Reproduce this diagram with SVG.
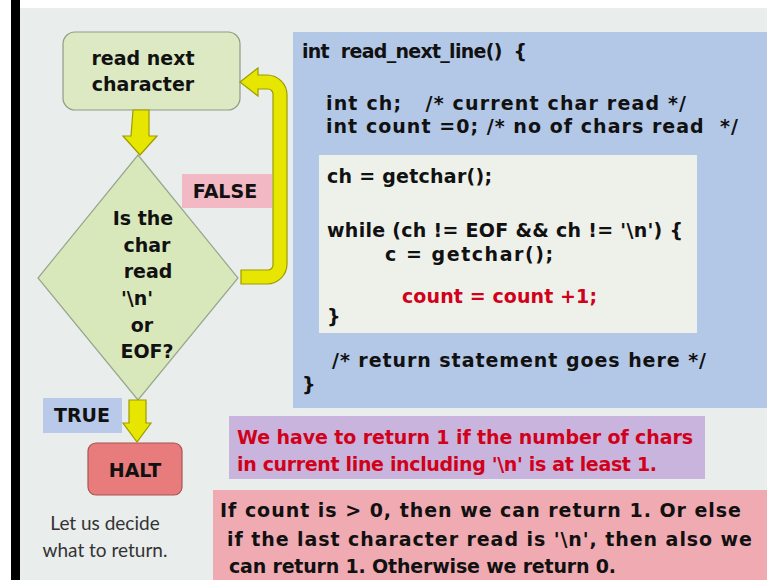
<svg xmlns="http://www.w3.org/2000/svg" width="767" height="580" viewBox="0 0 767 580">
<defs>
<style>
.t{font-family:"DejaVu Sans","Open Sans",sans-serif;font-weight:700;fill:#111;white-space:pre}
.c{font-size:19px}
.r{fill:#d0021b}
.n{font-family:"Lato","Open Sans",sans-serif;font-size:19px;fill:#333}
.node{stroke-width:1.2}
.ar{fill:#e6e600;stroke:#9c9c00;stroke-width:1.2}
</style>
</defs>
<rect x="0" y="0" width="767" height="580" fill="#ffffff"/>
<rect x="20" y="8" width="747" height="572" fill="#e9edec"/>
<rect x="11" y="0" width="9" height="580" fill="#000"/>

<g id="code-box">
<rect x="293" y="32" width="474" height="376" fill="#b3c7e6"/>
<text class="t c" x="302" y="58" textLength="225">int  read_next_line()  {</text>
<text class="t c" x="326" y="110" textLength="360">int ch;   /* current char read */</text>
<text class="t c" x="326" y="133" textLength="412">int count =0; /* no of chars read  */</text>
<rect x="319" y="155" width="378" height="178" fill="#eef0ea"/>
<text class="t c" x="327" y="183" textLength="165">ch = getchar();</text>
<text class="t c" x="327" y="237" textLength="356">while (ch != EOF &amp;&amp; ch != '\n') {</text>
<text class="t c" x="385" y="261" textLength="168">c = getchar();</text>
<text class="t c r" x="402" y="303" textLength="195">count = count +1;</text>
<text class="t c" x="327" y="323">}</text>
<text class="t c" x="332" y="367" textLength="374">/* return statement goes here */</text>
<text class="t c" x="302" y="391">}</text>
</g>

<g id="note-return">
<rect x="229" y="416" width="476" height="63" fill="#c9b4dd"/>
<text class="t c r" x="237" y="444" textLength="456">We have to return 1 if the number of chars</text>
<text class="t c r" x="237" y="471" textLength="420">in current line including '\n' is at least 1.</text>
</g>

<g id="note-count">
<rect x="213" y="490" width="554" height="90" fill="#f0aab2"/>
<text class="t c" x="220" y="517" textLength="521">If count is &gt; 0, then we can return 1. Or else</text>
<text class="t c" x="227" y="546" textLength="525">if the last character read is '\n', then also we</text>
<text class="t c" x="229" y="573" textLength="387">can return 1. Otherwise we return 0.</text>
</g>

<g id="read-next">
<rect class="node" x="63" y="32" width="177" height="78" rx="12" fill="#dce9c2" stroke="#8f9c86"/>
<text class="t c" x="143" y="65" text-anchor="middle">read next</text>
<text class="t c" x="143" y="91" text-anchor="middle">character</text>
</g>

<g id="decision">
<polygon class="node" points="138,155 238,278 138,400 38,278" fill="#d9e8bb" stroke="#98a68e"/>
<text class="t c" x="143" y="225" text-anchor="middle">Is the</text>
<text class="t c" x="147" y="252" text-anchor="middle">char</text>
<text class="t c" x="148" y="278" text-anchor="middle">read</text>
<text class="t c" x="137" y="305" text-anchor="middle">'\n'</text>
<text class="t c" x="142" y="332" text-anchor="middle">or</text>
<text class="t c" x="147" y="358" text-anchor="middle">EOF?</text>
</g>

<g id="halt">
<rect class="node" x="88" y="443" width="94" height="52" rx="8" fill="#e87b7b" stroke="#a85555"/>
<text class="t c" x="135" y="477" text-anchor="middle">HALT</text>
</g>

<g id="label-false">
<rect x="182" y="174" width="90" height="34" fill="#f2b8c3"/>
<text class="t c" x="225" y="198" text-anchor="middle">FALSE</text>
</g>

<g id="label-true">
<rect x="43" y="398" width="79" height="35" fill="#b8c9e9"/>
<text class="t c" x="82" y="422" text-anchor="middle">TRUE</text>
</g>

<g id="note-decide">
<text class="n" x="105" y="530" text-anchor="middle">Let us decide</text>
<text class="n" x="105" y="557" text-anchor="middle">what to return.</text>
</g>

<g id="connectors">
<path class="ar" d="M133,110 L149,110 L149,136 L157,136 L140,155 L123,136 L131,136 Z"/>
<path class="ar" d="M129,400 L146,400 L146,423 L151,423 L137,442 L123,423 L129,423 Z"/>
<path class="ar" d="M240,82 L258,68 L258,75 L267,75 A20,20 0 0 1 287,95 L287,264 A20,20 0 0 1 267,284 L241,284 L241,270 L268,270 A5,5 0 0 0 273,265 L273,94 A5,5 0 0 0 268,89 L258,89 L258,96 Z"/>
</g>
</svg>
